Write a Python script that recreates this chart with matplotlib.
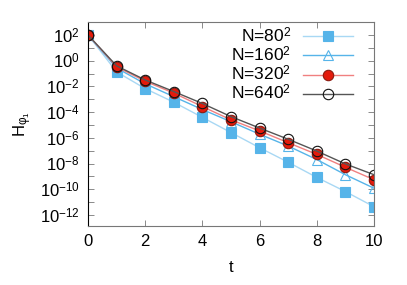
import matplotlib
matplotlib.use("Agg")
import matplotlib.pyplot as plt
import numpy as np
from matplotlib.ticker import FixedLocator, FuncFormatter, NullFormatter

plt.rcParams["font.family"] = ["Liberation Sans", "DejaVu Sans"]
plt.rcParams["mathtext.fontset"] = "custom"
plt.rcParams["mathtext.rm"] = "Liberation Serif"
plt.rcParams["mathtext.it"] = "Liberation Serif:italic"

t = [0, 1, 2, 3, 4, 5, 6, 7, 8, 9, 10]
# log10 of H_phi1
log_n80 = [2.0, -0.87, -2.17, -3.23, -4.41, -5.59, -6.77, -7.90, -9.08, -10.18, -11.36]
log_n160 = [2.0, -0.57, -1.80, -2.80, -3.80, -4.75, -5.72, -6.64, -7.69, -8.87, -9.92]
log_n320 = [2.0, -0.47, -1.60, -2.52, -3.57, -4.60, -5.46, -6.38, -7.29, -8.29, -9.26]
log_n640 = [2.0, -0.40, -1.50, -2.40, -3.33, -4.35, -5.24, -6.11, -7.03, -8.03, -8.87]
labels = ["N=80$^{\\mathregular{2}}$", "N=160$^{\\mathregular{2}}$",
          "N=320$^{\\mathregular{2}}$", "N=640$^{\\mathregular{2}}$"]


def _pow10(v, pos):
    k = int(round(np.log10(v)))
    return "10$^{\\mathregular{%s}}$" % str(k).replace("-", "\u2212")


fig = plt.figure(figsize=(4.07, 2.85), dpi=100)
ax = fig.add_axes([88 / 407, 1 - 226 / 285, (374 - 88) / 407, (226 - 22) / 285])

styles = [
    dict(color="#a8d8f4", marker="s", ms=6.5, mfc="#56b4e9", mec="#56b4e9"),
    dict(color="#56b4e9", marker="^", ms=7, mfc="none", mec="#56b4e9"),
    dict(color="#f08080", marker="o", ms=7.5, mfc="#e41a0c", mec="#8b1a10"),
    dict(color="#555555", marker="o", ms=7.5, mfc="none", mec="#111111"),
]
for ys, lab, st in zip([log_n80, log_n160, log_n320, log_n640], labels, styles):
    ax.plot(t, 10.0 ** np.array(ys), lw=1.0, mew=0.8, label=lab, **st)

ax.set_yscale("log")
ax.set_xlim(0, 10)
ax.set_ylim(10 ** -12.86, 10 ** 3.01)
ax.set_xticks([0, 2, 4, 6, 8, 10])
ax.yaxis.set_major_locator(FixedLocator([10.0 ** k for k in range(-12, 3, 2)]))
ax.yaxis.set_minor_locator(FixedLocator([10.0 ** k for k in range(-13, 3, 2)]))
ax.yaxis.set_minor_formatter(NullFormatter())
ax.yaxis.set_major_formatter(FuncFormatter(_pow10))

ax.tick_params(which="both", direction="in", top=True, right=True, labelsize=12,
               length=4, width=0.6, color="#777777", pad=6)
for side in ["top", "right", "bottom"]:
    ax.spines[side].set_color("#777777")
ax.spines["left"].set_color("black")

ax.set_xlabel("t", fontsize=12, labelpad=8)
ax.set_ylabel("H$_{\\mathregular{\u03c6_1}}$", fontsize=12, labelpad=4)

leg = ax.legend(loc="upper right", frameon=False, fontsize=12.5, markerfirst=False,
                handlelength=2.9, labelspacing=0.0, borderaxespad=0, borderpad=0,
                handletextpad=0.65,
                bbox_to_anchor=((353 - 88) / 286, (226 - 26) / 204))

fig.savefig("out.png", dpi=100)
